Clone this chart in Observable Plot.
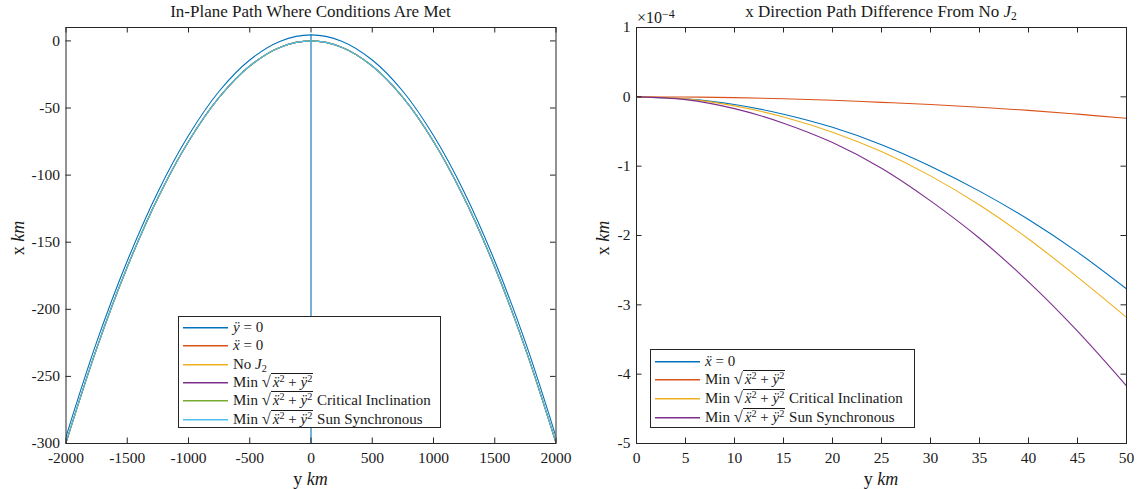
<!DOCTYPE html>
<html><head><meta charset="utf-8">
<script src="https://cdn.jsdelivr.net/npm/d3@7"></script>
<script src="https://cdn.jsdelivr.net/npm/@observablehq/plot@0.6"></script>
<style>
body{margin:0;background:#fff;font-family:"Liberation Serif","DejaVu Serif",serif;color:#1a1a1a}
#wrap{position:relative;width:1139px;height:489px;overflow:hidden;background:#fff}
.panel{position:absolute;top:0;overflow:visible}
.t{position:absolute;white-space:nowrap;line-height:1}
.title{font-size:17px;transform:translateX(-50%)}
.xlab{font-size:18px;transform:translateX(-50%)}
.ylab{font-size:18px;transform:translate(-50%,-50%) rotate(-90deg)}
.legend{position:absolute;border:1px solid #262626;background:#fff;box-sizing:border-box}
.row{position:absolute;left:0;height:18px;display:flex;align-items:center;font-size:15px;white-space:nowrap;line-height:1}
.sw{width:45px;height:0;border-top:1px solid;margin-left:4px;margin-right:5px;box-shadow:0 0.5px 0 0 currentColor}
.rad{border-top:1px solid #1a1a1a;padding:1px 1px 0 2px;display:inline-block;line-height:1}
.rt{font-size:1.1em;display:inline-block;line-height:1}
sup{font-size:0.68em;line-height:0;vertical-align:0.45em}
sub{font-size:0.68em;line-height:0;vertical-align:-0.25em}
</style>
</head><body>
<div id="wrap"></div>
<script>
// ---------- Left panel data: in-plane path (y km across, x km along) ----------
const leftY = [-2000,-1750,-1500,-1250,-1000,-750,-500,-250,0,250,500,750,1000,1250,1500,1750,2000];
const yddZeroX = [-295,-224.5,-164,-112.5,-70.5,-37.5,-14.2,-0.2,4.5,-0.2,-14.2,-37.5,-70.5,-112.5,-164,-224.5,-295];
const yddZeroVertY = [0, 0];
const yddZeroVertX = [4.5, -300];
const xddZeroX = [-299.5,-229.3,-168.5,-117,-74.9,-42.1,-18.7,-4.7,0,-4.7,-18.7,-42.1,-74.9,-117,-168.5,-229.3,-299.5];
const noJ2X = [-299.5,-229.3,-168.5,-117,-74.9,-42.1,-18.7,-4.7,0,-4.7,-18.7,-42.1,-74.9,-117,-168.5,-229.3,-299.5];
const minAccX = [-299.5,-229.3,-168.5,-117,-74.9,-42.1,-18.7,-4.7,0,-4.7,-18.7,-42.1,-74.9,-117,-168.5,-229.3,-299.5];
const critIncX = [-299.5,-229.3,-168.5,-117,-74.9,-42.1,-18.7,-4.7,0,-4.7,-18.7,-42.1,-74.9,-117,-168.5,-229.3,-299.5];
const sunSyncX = [-299.5,-229.3,-168.5,-117,-74.9,-42.1,-18.7,-4.7,0,-4.7,-18.7,-42.1,-74.9,-117,-168.5,-229.3,-299.5];
const leftXTicks = [-2000,-1500,-1000,-500,0,500,1000,1500,2000];
const leftYTicks = [0,-50,-100,-150,-200,-250,-300];

// ---------- Right panel data: x difference from No J2 (units of 1e-4 km) ----------
const rightY = [0,5,10,15,20,25,30,35,40,45,50];
const diffXddZero = [0,-0.03,-0.11,-0.25,-0.44,-0.69,-1.0,-1.36,-1.77,-2.24,-2.77];
const diffMin = [0,-0.003,-0.012,-0.027,-0.05,-0.08,-0.11,-0.15,-0.195,-0.25,-0.31];
const diffCrit = [0,-0.03,-0.13,-0.29,-0.51,-0.79,-1.14,-1.56,-2.05,-2.6,-3.18];
const diffSun = [0,-0.04,-0.17,-0.38,-0.66,-1.03,-1.5,-2.04,-2.67,-3.38,-4.17];
const rightXTicks = [0,5,10,15,20,25,30,35,40,45,50];
const rightYTicks = [1,0,-1,-2,-3,-4,-5];

const C = {blue:"#0072BD", orange:"#D95319", yellow:"#EDB120", purple:"#7E2F8E", green:"#77AC30", light:"#4DBEEE", axis:"#262626"};
const FONT = '"Liberation Serif", "DejaVu Serif", serif';

function rows(xs, ys){ return xs.map((x,i)=>({x, y: ys[i]})); }

function frameMarks(xt, yt, innerW, innerH, tl){
  return [
    Plot.gridX(xt, {stroke:C.axis, strokeOpacity:1, insetTop: innerH - tl}),
    Plot.gridX(xt, {stroke:C.axis, strokeOpacity:1, insetBottom: innerH - tl}),
    Plot.gridY(yt, {stroke:C.axis, strokeOpacity:1, insetRight: innerW - tl}),
    Plot.gridY(yt, {stroke:C.axis, strokeOpacity:1, insetLeft: innerW - tl}),
    Plot.axisX(xt, {tickSize:0, tickPadding:8, tickFormat: d => String(d), label:null, fill:"#1a1a1a", fontSize:15.5, fontFamily:FONT}),
    Plot.axisY(yt, {tickSize:0, tickPadding:6, tickFormat: d => String(d), label:null, fill:"#1a1a1a", fontSize:15.5, fontFamily:FONT}),
    Plot.frame({stroke:C.axis, strokeWidth:1})
  ];
}

const wrap = document.getElementById("wrap");
const ml = 65.5, mr = 14.5, mt = 27, mb = 46;
const lw = 570, h = 489;
const line = (data, color) => Plot.line(data, {x:"x", y:"y", stroke: color, strokeWidth: 1.1, curve:"catmull-rom", clip:true});

const left = Plot.plot({
  width: lw, height: h, marginLeft: ml, marginRight: mr, marginTop: mt, marginBottom: mb,
  style: {fontFamily: FONT, fontSize: "16px", background: "transparent", overflow: "visible"},
  x: {domain: [-2000, 2000], label: null},
  y: {domain: [-300, 10], label: null},
  marks: [
    line(rows(leftY, yddZeroX), C.blue),
    line(rows(yddZeroVertY, yddZeroVertX), C.blue),
    line(rows(leftY, xddZeroX), C.orange),
    line(rows(leftY, noJ2X), C.yellow),
    line(rows(leftY, minAccX), C.purple),
    line(rows(leftY, critIncX), C.green),
    line(rows(leftY, sunSyncX), C.light),
    ...frameMarks(leftXTicks, leftYTicks, lw - ml - mr, h - mt - mb, 5.5)
  ]
});
left.classList.add("panel"); left.style.left = "0px";
wrap.appendChild(left);

const rw = 569, rml = 66, rmr = 13;
const right = Plot.plot({
  width: rw, height: h, marginLeft: rml, marginRight: rmr, marginTop: mt, marginBottom: mb,
  style: {fontFamily: FONT, fontSize: "16px", background: "transparent", overflow: "visible"},
  x: {domain: [0, 50], label: null},
  y: {domain: [-5, 1], label: null},
  marks: [
    line(rows(rightY, diffXddZero), C.blue),
    line(rows(rightY, diffMin), C.orange),
    line(rows(rightY, diffCrit), C.yellow),
    line(rows(rightY, diffSun), C.purple),
    ...frameMarks(rightXTicks, rightYTicks, rw - rml - rmr, h - mt - mb, 5.5)
  ]
});
right.classList.add("panel"); right.style.left = "570px";
wrap.appendChild(right);

function addText(html, cls, style){
  const d = document.createElement("div");
  d.className = "t " + cls; d.innerHTML = html;
  Object.assign(d.style, style); wrap.appendChild(d); return d;
}
addText("In-Plane Path Where Conditions Are Met", "title", {left:"310.5px", top:"3px"});
addText('x Direction Path Difference From No <i>J</i><sub>2</sub>', "title", {left:"881px", top:"3px"});
addText('y <i>km</i>', "xlab", {left:"310.5px", top:"470px"});
addText('y <i>km</i>', "xlab", {left:"881px", top:"470px"});
addText('x <i>km</i>', "ylab", {left:"18px", top:"238px"});
addText('x <i>km</i>', "ylab", {left:"603px", top:"238px"});
addText('×10<sup style="font-size:0.75em">−4</sup>', "", {left:"637px", top:"10px", fontSize:"16px"});

const sq = '<span class="rt">√</span><span class="rad"><i>ẍ</i><sup>2</sup> + <i>ÿ</i><sup>2</sup></span>';
function legend(box, entries, rowH, firstC){
  const L = document.createElement("div");
  L.className = "legend";
  Object.assign(L.style, {left: box[0]+"px", top: box[1]+"px", width: box[2]+"px", height: box[3]+"px"});
  entries.forEach((e,i)=>{
    const r = document.createElement("div");
    r.className = "row";
    r.style.top = Math.round(firstC + i*rowH - 9) + "px";
    r.innerHTML = `<div class="sw" style="color:${e[0]};border-color:${e[0]}"></div><span style="color:#1a1a1a">${e[1]}</span>`;
    L.appendChild(r);
  });
  wrap.appendChild(L);
}
legend([178, 316, 263, 112], [
  [C.blue, '<i>ÿ</i> = 0'],
  [C.orange, '<i>ẍ</i> = 0'],
  [C.yellow, 'No <i>J</i><sub>2</sub>'],
  [C.purple, 'Min ' + sq],
  [C.green, 'Min ' + sq + ' Critical Inclination'],
  [C.light, 'Min ' + sq + ' Sun Synchronous']
], 18.3, 10);
legend([650, 349, 265, 79], [
  [C.blue, '<i>ẍ</i> = 0'],
  [C.orange, 'Min ' + sq],
  [C.yellow, 'Min ' + sq + ' Critical Inclination'],
  [C.purple, 'Min ' + sq + ' Sun Synchronous']
], 18.7, 10.5);
</script>
</body></html>
